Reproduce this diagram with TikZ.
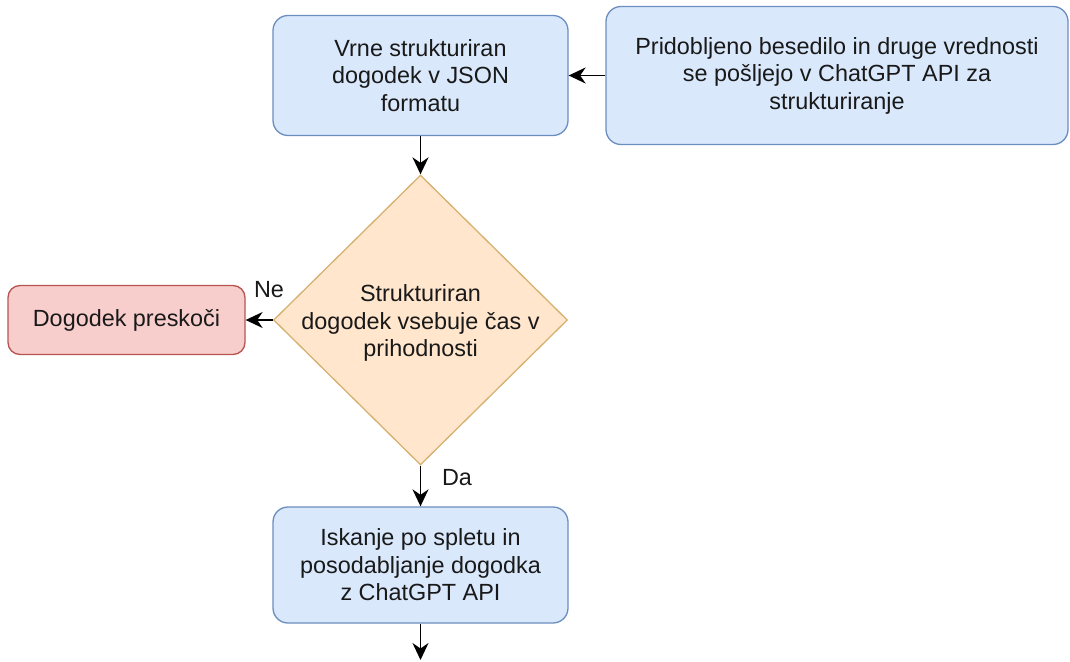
\documentclass[tikz,border=0pt]{standalone}
\usepackage{fontspec}
\setmainfont{Liberation Sans}
\usetikzlibrary{shapes.geometric,arrows.meta}
\definecolor{bluefill}{HTML}{DAE8FC}
\definecolor{bluedraw}{HTML}{6C8EBF}
\definecolor{redfill}{HTML}{F8CECC}
\definecolor{reddraw}{HTML}{B85450}
\definecolor{orfill}{HTML}{FFE6CC}
\definecolor{ordraw}{HTML}{D6B070}
\begin{document}
\begin{tikzpicture}[x=1pt,y=-1pt,
  every node/.style={font=\fontsize{23.4}{27.5}\selectfont, text=black!90},
  bluebox/.style={draw=bluedraw, fill=bluefill, line width=1.3pt, rounded corners=15pt, align=center, inner sep=0pt},
  redbox/.style={draw=reddraw, fill=redfill, line width=1.3pt, rounded corners=12pt, align=center, inner sep=0pt},
  decbox/.style={draw=ordraw, fill=orfill, line width=1.3pt, diamond, inner sep=0pt},
  conn/.style={line width=1.8pt, -{Stealth[length=17pt,width=16pt,inset=5.5pt]}},
  lbl/.style={inner sep=0pt}
]
\useasboundingbox (0,0) rectangle (1070,661);
\node[bluebox, minimum width=295pt, minimum height=120pt] (json) at (420.5,75.5) {Vrne strukturiran\\dogodek v JSON\\formatu};
\node[bluebox, minimum width=462pt, minimum height=138pt] (send) at (837,75.5) {Pridobljeno besedilo in druge vrednosti\\se pošljejo v ChatGPT API za\\strukturiranje};
\node[decbox, minimum width=294pt, minimum height=290pt] (dec) at (420.5,320) {};
\node[align=center, inner sep=0pt] (dectext) at (420.5,323) {Strukturiran\\dogodek vsebuje čas v\\prihodnosti};
\node[redbox, minimum width=237pt, minimum height=69pt] (skip) at (126.5,320) {Dogodek preskoči};
\node[bluebox, minimum width=295pt, minimum height=116pt] (search) at (420.5,565) {Iskanje po spletu in\\posodabljanje dogodka\\z ChatGPT API};
\coordinate (out) at (420.5,660);
\draw[conn] (send.west) -- (json.east);
\draw[conn] (json.south) -- (dec.north);
\draw[conn] (dec.west) -- (skip.east);
\draw[conn] (dec.south) -- (search.north);
\draw[conn] (search.south) -- (out);
\node[lbl] (ne) at (269,290) {Ne};
\node[lbl] (da) at (457,478) {Da};
\end{tikzpicture}
\end{document}
